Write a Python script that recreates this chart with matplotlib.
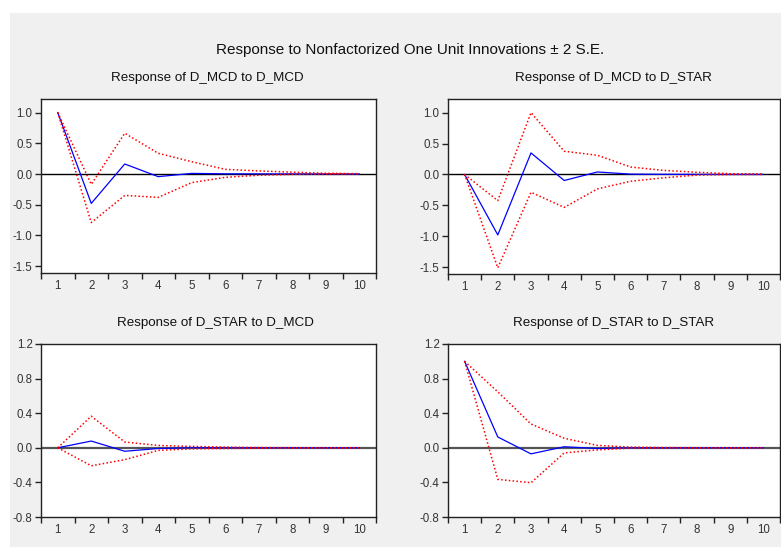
import matplotlib
matplotlib.use("Agg")
import matplotlib.pyplot as plt
from matplotlib.patches import Rectangle

plt.rcParams['font.family'] = ['Liberation Sans', 'DejaVu Sans']

periods = [1, 2, 3, 4, 5, 6, 7, 8, 9, 10]
xtick_labels = ["1", "2", "3", "4", "5", "6", "7", "8", "9", "10"]

main_title = "Response to Nonfactorized One Unit Innovations \u00b1 2 S.E."
titles = ["Response of D_MCD to D_MCD", "Response of D_MCD to D_STAR",
          "Response of D_STAR to D_MCD", "Response of D_STAR to D_STAR"]

# D_MCD to D_MCD
mcd_mcd = [1.0, -0.478, 0.163, -0.043, 0.01, 0.003, 0.002, 0.001, 0.0, 0.0]
mcd_mcd_up = [1.0, -0.168, 0.663, 0.337, 0.20, 0.076, 0.05, 0.03, 0.012, 0.005]
mcd_mcd_lo = [1.0, -0.79, -0.348, -0.38, -0.14, -0.054, -0.02, -0.005, 0.0, 0.0]
# D_MCD to D_STAR
mcd_star = [0.0, -0.978, 0.348, -0.098, 0.04, 0.005, 0.002, 0.001, 0.0, 0.0]
mcd_star_up = [0.0, -0.424, 1.0, 0.375, 0.31, 0.12, 0.065, 0.035, 0.012, 0.008]
mcd_star_lo = [0.0, -1.51, -0.288, -0.533, -0.234, -0.11, -0.054, -0.01, 0.0, 0.0]
# D_STAR to D_MCD
star_mcd = [0.0, 0.078, -0.04, -0.008, 0.0, 0.0, 0.0, 0.0, 0.0, 0.0]
star_mcd_up = [0.0, 0.365, 0.067, 0.027, 0.016, 0.008, 0.003, 0.001, 0.0, 0.0]
star_mcd_lo = [0.0, -0.208, -0.137, -0.03, -0.012, -0.008, -0.005, -0.001, 0.0, 0.0]
# D_STAR to D_STAR
star_star = [1.0, 0.125, -0.07, 0.012, -0.008, 0.0, 0.0, 0.0, 0.0, 0.0]
star_star_up = [1.0, 0.647, 0.275, 0.11, 0.028, 0.008, 0.003, 0.001, 0.0, 0.0]
star_star_lo = [1.0, -0.365, -0.404, -0.059, -0.024, -0.004, -0.001, 0.0, 0.0, 0.0]

top_yticks = [-1.5, -1.0, -0.5, 0.0, 0.5, 1.0]
bot_yticks = [-0.8, -0.4, 0.0, 0.4, 0.8, 1.2]

W, H = 781, 547
fig = plt.figure(figsize=(W / 100, H / 100), dpi=100, facecolor='white')
fig.patches.append(Rectangle((10 / W, 0), 1 - 10 / W, 1 - 13 / H,
                             transform=fig.transFigure, facecolor='#f0f0f0',
                             edgecolor='none', zorder=-10))

def px_axes(l, t, r, b):
    return fig.add_axes([l / W, 1 - b / H, (r - l) / W, (b - t) / H])

panels = [
    (px_axes(41, 99, 376, 273), mcd_mcd, mcd_mcd_up, mcd_mcd_lo, top_yticks, (-1.61, 1.22), 'black', 1.0),
    (px_axes(448, 99, 780, 274), mcd_star, mcd_star_up, mcd_star_lo, top_yticks, (-1.61, 1.22), 'black', 1.0),
    (px_axes(41, 344, 376, 517), star_mcd, star_mcd_up, star_mcd_lo, bot_yticks, (-0.8, 1.2), '#555555', 1.6),
    (px_axes(448, 344, 780, 517), star_star, star_star_up, star_star_lo, bot_yticks, (-0.8, 1.2), '#555555', 1.6),
]

for ax, mid, up, lo, yt, ylim, zc, zlw in panels:
    ax.set_facecolor('white')
    ax.axhline(0, color=zc, lw=zlw, zorder=1)
    ax.plot(periods, up, color='red', lw=1.1, ls=(0, (1, 1.5)), zorder=3)
    ax.plot(periods, lo, color='red', lw=1.1, ls=(0, (1, 1.5)), zorder=3)
    ax.plot(periods, mid, color='blue', lw=0.9, zorder=2)
    ax.set_xlim(0.5, 10.5)
    ax.set_ylim(*ylim)
    bounds = [p - 0.5 for p in periods] + [periods[-1] + 0.5]
    ax.set_xticks(bounds)
    ax.set_xticklabels([])
    ax.set_xticks(periods, minor=True)
    ax.set_xticklabels(xtick_labels, minor=True)
    ax.tick_params(axis='x', which='major', direction='out', length=4, width=1, color='#222222')
    ax.tick_params(axis='x', which='minor', length=0, pad=5, labelsize=8.3, labelcolor='#333333')
    ax.set_yticks(yt)
    ax.set_yticklabels([f"{v:.1f}" for v in yt])
    ax.tick_params(axis='y', direction='out', length=4, width=1, color='#222222',
                   labelsize=8.3, labelcolor='#333333', pad=2)
    for s in ax.spines.values():
        s.set_color('#222222')
        s.set_linewidth(1.0)

fig.text(410 / W, 1 - 50 / H, main_title, ha='center', va='center', fontsize=11, color='#111111')
fig.text(207 / W, 1 - 78 / H, titles[0], ha='center', va='center', fontsize=9.6, color='#111111')
fig.text(613 / W, 1 - 78 / H, titles[1], ha='center', va='center', fontsize=9.6, color='#111111')
fig.text(215 / W, 1 - 323 / H, titles[2], ha='center', va='center', fontsize=9.6, color='#111111')
fig.text(614 / W, 1 - 323 / H, titles[3], ha='center', va='center', fontsize=9.6, color='#111111')

fig.savefig('out.png', dpi=100, facecolor='white')
